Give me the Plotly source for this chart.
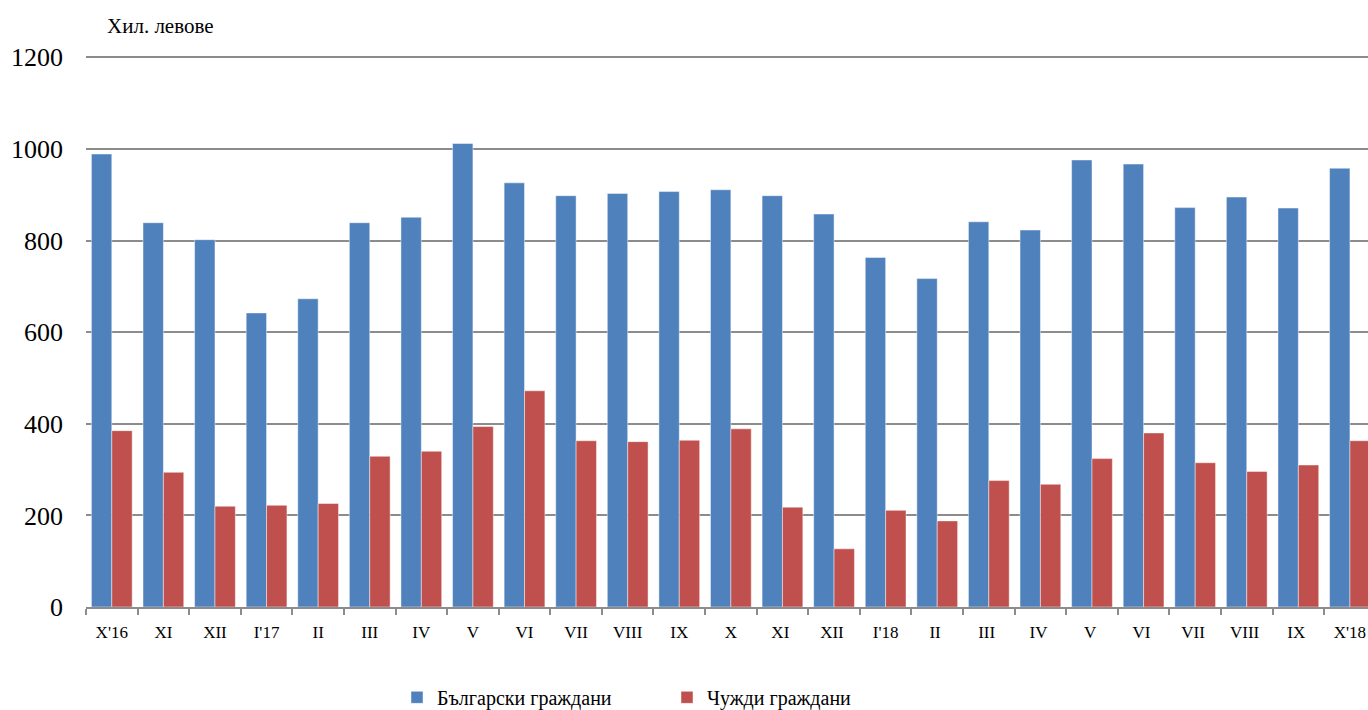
import plotly.graph_objects as go

categories = ["X'16", "XI", "XII", "I'17", "II", "III", "IV", "V", "VI", "VII", "VIII", "IX",
              "X", "XI ", "XII ", "I'18", "II ", "III ", "IV ", "V ", "VI ", "VII ", "VIII ", "IX ", "X'18"]
bulgarian = [989, 839, 802, 642, 673, 839, 851, 1012, 926, 898, 903, 907,
             911, 898, 858, 763, 717, 841, 823, 976, 967, 872, 895, 871, 958]
foreign = [385, 294, 220, 222, 226, 329, 340, 394, 472, 363, 361, 364,
           389, 218, 127, 211, 188, 276, 268, 324, 380, 315, 296, 310, 363]
y_ticks = [0, 200, 400, 600, 800, 1000, 1200]

FONT = "Liberation Serif"

fig = go.Figure()
fig.add_trace(go.Bar(x=categories, y=bulgarian, name="Български граждани",
                     marker=dict(color="#4F81BD", line=dict(color="rgba(255,255,255,0.45)", width=1))))
fig.add_trace(go.Bar(x=categories, y=foreign, name="Чужди граждани",
                     marker=dict(color="#C0504D", line=dict(color="rgba(255,255,255,0.45)", width=1))))

fig.update_layout(
    width=1368, height=710,
    margin=dict(l=86, r=0, t=56, b=103, autoexpand=False),
    paper_bgcolor="white", plot_bgcolor="white",
    barmode="group", bargap=0.21, bargroupgap=0,
    font=dict(family=FONT, color="black"),
    showlegend=True,
    legend=dict(orientation="h", x=0.2426, y=-0.164, xanchor="left", yanchor="middle",
                font=dict(family=FONT, size=20), entrywidth=225, itemwidth=30),
    xaxis=dict(type="category", range=[-0.5, 24.35], showline=True, linecolor="#8c8c8c",
               linewidth=1.5, ticks="outside", tickson="boundaries", ticklen=6,
               tickcolor="#8c8c8c", tickwidth=1.5, showgrid=False, ticklabelstandoff=9,
               tickfont=dict(family=FONT, size=17), fixedrange=True),
    yaxis=dict(range=[0, 1203], tickvals=y_ticks, showgrid=True, gridcolor="#8c8c8c",
               gridwidth=1.5, zeroline=False, showline=False, ticks="",
               tickfont=dict(family=FONT, size=26), ticklabelstandoff=22, fixedrange=True),
    annotations=[dict(text="Хил. левове", xref="paper", yref="paper", x=(160 - 86) / 1282,
                      y=(607 - 26) / 551, xanchor="center", yanchor="middle", showarrow=False,
                      font=dict(family=FONT, size=21))],
)

fig.write_html("out.html", config={"displayModeBar": False},
               post_script="document.body.style.margin='0';document.body.style.overflow='hidden';")
